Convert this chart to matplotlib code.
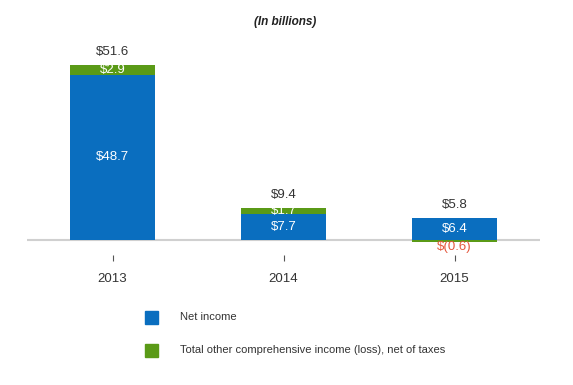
import matplotlib
matplotlib.use("Agg")
import matplotlib.pyplot as plt
from matplotlib.patches import Rectangle

plt.rcParams['font.family'] = ['Liberation Sans', 'DejaVu Sans']

# Data (in billions)
years = ['2013', '2014', '2015']
net_income = [48.7, 7.7, 6.4]
other_income = [2.9, 1.7, -0.6]
totals = [51.6, 9.4, 5.8]
net_labels = ['$48.7', '$7.7', '$6.4']
other_labels = ['$2.9', '$1.7', '$(0.6)']
total_labels = ['$51.6', '$9.4', '$5.8']

BLUE = '#0a6ebf'
GREEN = '#5a9a17'
RED = '#e4573d'
TEXT = '#333333'

fig = plt.figure(figsize=(5.73, 3.85), dpi=100)
ax = fig.add_axes([27 / 573, 0.3377, 513 / 573, 0.5234])

x = list(range(len(years)))
width = 0.5

ax.bar(x, net_income, width=width, color=BLUE, zorder=2)
green_bottom = [n if o >= 0 else 0 for n, o in zip(net_income, other_income)]
ax.bar(x, other_income, width=width, bottom=green_bottom, color=GREEN, zorder=2)

ax.axhline(0, color='#d0d0d0', lw=1.5, zorder=1)

for i in x:
    # net income label in the middle of the blue segment
    ax.text(i, net_income[i] / 2, net_labels[i], ha='center', va='center',
            color='white', fontsize=9.5, zorder=3)
    # other comprehensive income label
    if other_income[i] >= 0:
        ax.text(i, green_bottom[i] + other_income[i] / 2, other_labels[i],
                ha='center', va='center', color='white', fontsize=9.5, zorder=3)
    else:
        ax.annotate(other_labels[i], (i, other_income[i]), xytext=(0, 1),
                    textcoords='offset points', ha='center', va='top',
                    color=RED, fontsize=9.5, zorder=3)
    # total above bar
    top = max(net_income[i], net_income[i] + other_income[i])
    ax.annotate(total_labels[i], (i, top), xytext=(0, 5),
                textcoords='offset points', ha='center', va='bottom',
                color=TEXT, fontsize=9.5)

ax.set_xlim(-0.5, 2.5)
ax.set_ylim(-4.42, 55)
ax.set_xticks(x)
ax.set_xticklabels(years, color=TEXT, fontsize=9.5)
ax.tick_params(axis='x', direction='out', length=4, width=0.8, color='#555555', pad=9)
ax.set_yticks([])
for s in ax.spines.values():
    s.set_visible(False)

fig.text(285 / 573, 1 - 22 / 385, '(In billions)', ha='center', va='center',
         fontsize=8.5, fontweight='bold', fontstyle='italic', color='#222222')

# Legend
legend_items = [('Net income', BLUE), ('Total other comprehensive income (loss), net of taxes', GREEN)]
legend_y = [317, 350]
for (label, color), yp in zip(legend_items, legend_y):
    fig.add_artist(Rectangle((145 / 573, 1 - (yp + 6.5) / 385), 13 / 573, 13 / 385,
                             transform=fig.transFigure, color=color))
    fig.text(180 / 573, 1 - yp / 385, label, ha='left', va='center',
             fontsize=8, color=TEXT)

fig.savefig('out.png', dpi=100, facecolor='white')
